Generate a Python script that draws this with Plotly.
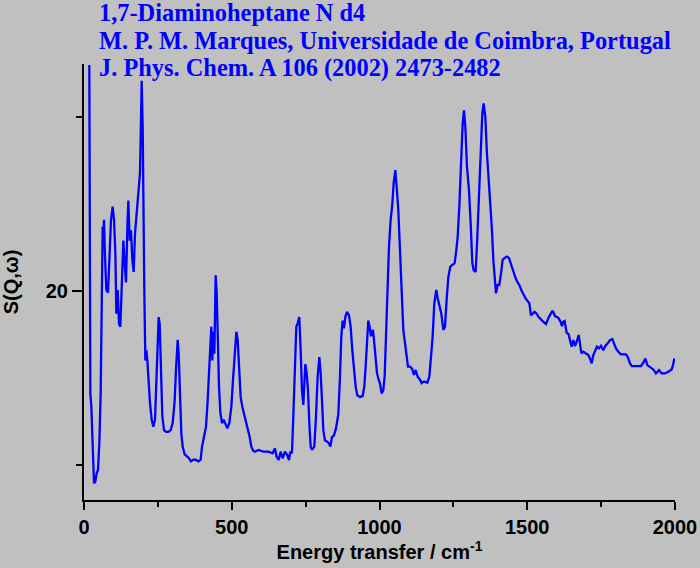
import plotly.graph_objects as go

# INS spectrum of 1,7-diaminoheptane N d4
energy = [
    18.0, 21.5, 24.9, 29.4, 33.9, 38.4, 42.9, 47.4, 51.9, 56.4, 58.7, 61.0, 63.2, 65.5, 67.7,
    71.1, 75.6, 81.3, 85.8, 91.4, 97.0, 101.6, 106.1, 109.5, 114.0, 118.5, 123.0, 127.5, 133.1,
    137.7, 142.2, 146.7, 150.1, 154.6, 159.1, 163.6, 168.1, 172.6, 177.1, 181.6, 186.2, 189.5,
    191.8, 195.2, 198.6, 200.8, 204.2, 207.6, 210.9, 214.4, 218.9, 223.4, 229.0, 234.7, 240.3,
    244.8, 249.3, 252.7, 256.1, 260.6, 265.1, 270.8, 277.5, 285.4, 293.3, 300.1, 306.8, 311.4,
    317.0, 320.4, 324.9, 329.4, 333.9, 340.7, 347.5, 354.2, 362.1, 370.0, 377.9, 386.9, 394.8,
    399.4, 406.1, 412.9, 418.5, 423.0, 427.5, 430.9, 434.3, 437.7, 441.1, 445.6, 449.0, 452.4,
    456.9, 461.4, 467.0, 472.7, 478.3, 485.1, 491.8, 498.6, 504.3, 509.9, 515.5, 520.0, 524.6,
    530.2, 535.8, 542.6, 549.4, 555.0, 560.7, 566.3, 573.1,
    578.6, 589.9, 606.8, 623.7, 638.4, 646.3, 651.9, 658.7, 665.5, 672.2, 680.1, 688.0, 693.7,
    698.2, 703.8, 708.3, 712.9, 718.5, 723.0, 728.6, 733.2, 737.7, 742.2, 745.6, 749.0, 753.5,
    758.0, 762.5, 767.0, 771.5, 779.4, 785.0, 790.7, 796.3, 800.8, 805.4, 809.9, 815.5, 823.4,
    829.0, 833.6, 839.2, 846.0, 852.7, 860.6, 866.3, 870.8, 875.3, 879.8, 884.3, 890.0, 896.7,
    902.4, 908.0, 913.6, 919.3, 924.9, 933.9, 942.9, 948.6, 953.1, 957.6, 962.1, 966.6, 971.2,
    974.5, 977.9, 981.3, 985.8, 991.4, 997.1, 1001.6, 1007.3, 1012.9, 1017.4, 1021.9, 1027.6,
    1032.1, 1037.7, 1043.4, 1047.9, 1053.5, 1058.0, 1063.7, 1069.3, 1075.0, 1080.6, 1086.3,
    1091.9, 1096.4, 1103.1, 1109.9, 1116.7, 1122.3, 1129.1, 1137.0,
    1142.6, 1150.5, 1161.8, 1168.6, 1174.2, 1179.9, 1185.5, 1192.3, 1196.8, 1202.4, 1209.2,
    1216.0, 1221.6, 1227.2, 1232.9, 1239.6, 1247.5, 1254.3, 1258.8, 1264.5, 1270.1, 1275.7,
    1281.4, 1285.9, 1290.4, 1296.0, 1302.8, 1308.5, 1314.1, 1318.6, 1325.4, 1331.0, 1336.7,
    1342.3, 1347.9, 1352.4, 1358.1, 1363.7, 1369.4, 1375.0, 1380.6, 1385.2, 1389.7, 1394.2,
    1399.8, 1405.5, 1411.1, 1416.7, 1423.5, 1431.4, 1438.2, 1443.8, 1449.5, 1455.1, 1460.8,
    1467.5, 1473.1, 1479.9, 1486.7, 1493.4, 1500.2, 1507.0, 1512.6, 1518.3, 1525.0, 1531.8,
    1538.6,
    1552.1, 1563.4, 1574.7, 1586.0, 1593.9, 1605.1, 1613.0, 1617.5, 1622.1, 1626.6, 1633.3,
    1640.1, 1644.6, 1650.3, 1655.9, 1661.5, 1667.2, 1674.0, 1678.5, 1683.0, 1689.7, 1697.6,
    1706.7, 1712.3, 1718.0, 1723.6, 1730.3, 1736.0, 1742.8, 1749.5, 1757.4, 1764.2, 1772.1,
    1780.0, 1787.9, 1793.5, 1800.3, 1808.2, 1817.2, 1825.1, 1834.1, 1840.9, 1847.7, 1854.4,
    1864.6, 1875.9, 1884.9, 1892.8, 1899.9, 1906.3, 1915.3, 1926.6, 1935.6, 1945.8, 1954.8,
    1966.1, 1977.4, 1988.7, 1993.2, 1998.0,
]
intensity = [
    33.0, 14.1, 13.35, 11.25, 8.95, 9.04, 9.52, 9.71, 11.25, 14.1, 17.95, 23.5, 23.7, 23.1, 24.1,
    22.0, 20.06, 19.9, 21.4, 24.1, 24.85, 24.1, 22.2, 18.7, 20.06, 18.1, 17.95, 20.6, 22.9,
    21.6, 20.5, 23.7, 25.2, 22.9, 23.5, 21.8, 21.1, 23.3, 24.3, 25.6, 26.6, 26.8,
    28.9, 32.1, 29.45, 24.1, 19.9, 16.0, 16.6, 16.0, 14.3, 13.55, 12.6, 12.2, 12.6,
    15.1, 17.95, 18.5, 18.1, 15.1, 12.8, 12.0, 11.9, 11.9, 12.0, 12.4, 13.7, 15.5,
    17.2, 16.4, 13.9, 11.8, 11.05, 10.6, 10.5, 10.4, 10.2, 10.3, 10.3, 10.2, 10.3,
    11.05, 11.6, 12.2, 13.7, 15.3, 17.2, 17.95, 16.0, 17.65, 16.4, 20.9, 19.9, 17.4,
    14.5, 13.0, 12.4, 12.6, 12.4, 12.1, 12.4, 13.35, 14.9, 16.6, 17.65, 17.2, 15.5,
    13.9, 13.35, 12.8, 12.4, 12.0, 11.6, 11.05, 10.8,
    10.76, 10.86, 10.76, 10.76, 10.67, 10.95, 10.47, 10.28, 10.76, 10.38, 10.76, 10.57, 10.28,
    10.76, 10.67, 12.77, 15.65, 17.95, 18.14, 18.5, 16.6, 14.3, 13.45, 14.7, 15.8, 15.3,
    14.3, 12.4, 11.05, 10.86, 11.05, 12.77, 15.07, 16.2, 15.3, 13.7, 12.0, 11.4, 11.34,
    11.24, 11.05, 11.6, 11.7, 12.1, 12.9, 15.07, 17.4, 18.3, 17.85, 18.5, 18.8, 18.6,
    17.95, 16.6, 15.5, 14.5, 14.0, 13.9, 13.96, 14.5, 15.65, 17.4, 18.3, 17.95, 17.4,
    17.6, 17.76, 17.2, 16.2, 15.3, 14.9, 14.7, 14.1, 14.3, 15.07, 17.76, 20.4,
    22.55, 24.1, 25.0, 26.2, 26.96, 26.0, 24.66, 22.36, 19.7, 17.76, 17.0,
    16.2, 15.65, 15.65, 15.55, 15.17, 15.46, 15.07, 14.9,
    14.7, 14.8, 14.73, 15.07, 16.2, 17.4, 19.3, 20.06, 19.6, 19.2, 18.7,
    17.76, 17.95, 19.5, 20.8, 21.4, 21.5, 21.6, 22.2, 23.1, 24.85, 27.3,
    29.6, 30.4, 29.45, 27.15, 25.8, 23.9, 21.6, 21.2, 21.1, 23.1, 25.8,
    28.7, 30.2, 30.8, 30.0, 27.9, 26.6, 25.2, 23.5, 21.8, 20.8, 19.87,
    20.35, 20.35, 21.0, 21.8, 21.9, 21.98, 21.9, 21.6, 21.2, 20.9, 20.73,
    20.5, 20.35, 20.06, 19.77, 19.6, 19.45, 19.3, 18.6, 18.68, 18.8, 18.7,
    18.5,
    18.27, 18.1, 18.56, 18.87, 18.56, 18.46, 18.23, 17.98, 18.23, 18.27, 17.6,
    17.52, 17.18, 16.8, 17.18, 16.84, 17.08, 17.47, 16.99, 16.41, 16.51, 16.41,
    16.32, 16.12, 15.84, 16.32, 16.6, 16.8, 16.7, 16.85, 16.6, 16.84, 16.99,
    17.18, 17.24, 16.99, 16.7, 16.51, 16.36, 16.36, 16.36, 16.18, 15.84, 15.68,
    15.68, 15.65, 15.68, 15.88, 16.12, 15.74, 15.61, 15.49, 15.26, 15.45, 15.26,
    15.26, 15.36, 15.49, 15.74, 16.12,
]

title_lines = [
    "1,7-Diaminoheptane N d4",
    "M. P. M. Marques, Universidade de Coimbra, Portugal",
    "J. Phys. Chem. A 106 (2002) 2473-2482",
]

sans = dict(family="Liberation Sans, Arial, sans-serif", size=20, color="black", weight="bold")

fig = go.Figure()
fig.add_trace(go.Scatter(
    x=energy, y=intensity, mode="lines",
    line=dict(color="#0000ff", width=2.3),
    showlegend=False,
))

for i, txt in enumerate(title_lines):
    fig.add_annotation(
        text=txt, xref="paper", yref="paper",
        x=0.022, y=1.117 - i * 0.0635,
        xanchor="left", yanchor="middle", showarrow=False,
        font=dict(family="Liberation Serif, Times New Roman, serif", size=24.4,
                  color="#0000ff", weight="bold"),
    )

fig.update_xaxes(
    range=[0, 2000], tick0=0, dtick=500, automargin=False,
    showline=True, linewidth=2, linecolor="black",
    ticks="outside", ticklen=8, tickwidth=2, tickcolor="black",
    minor=dict(dtick=250, ticks="outside", ticklen=5, tickwidth=2, tickcolor="black"),
    showgrid=False, zeroline=False, tickfont=sans,
    title=dict(text="Energy transfer / cm<sup>-1</sup>", font=sans, standoff=4),
)
fig.update_yaxes(
    range=[7.98, 33.06], tick0=0, dtick=20, automargin=False,
    showline=True, linewidth=2, linecolor="black",
    ticks="outside", ticklen=10, tickwidth=2, tickcolor="black",
    minor=dict(dtick=10, ticks="outside", ticklen=6, tickwidth=2, tickcolor="black"),
    showgrid=False, zeroline=False, tickfont=sans,
    title=dict(text="S(Q,ω)", font=sans, standoff=23),
)

fig.update_layout(
    width=700, height=568,
    margin=dict(l=84, r=25, t=64, b=68),
    paper_bgcolor="#c0c0c0", plot_bgcolor="#c0c0c0",
)

# page body has a default 8px margin; drop it so the figure sits at the window corner
fig.write_html("out.html", config={"displayModeBar": False},
               post_script="document.body.style.margin='0';")
